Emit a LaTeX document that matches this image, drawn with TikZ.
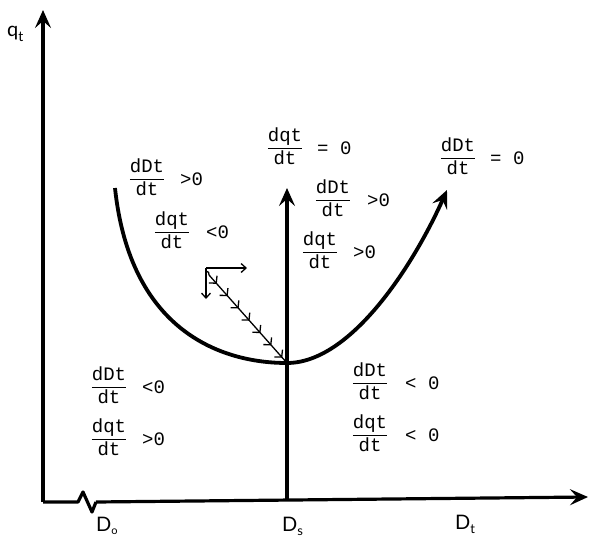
\documentclass[tikz,border=0pt]{standalone}
\usepackage{amsmath}
\usepackage{fontspec}
\setmainfont{Lato}
\newfontfamily\tw{Liberation Mono}
\usetikzlibrary{arrows.meta,decorations.markings}
\newcommand\dfr[2]{$\dfrac{\hbox{\tw #1}}{\hbox{\tw #2}}$}
\tikzset{
  axisline/.style={line width=3.2pt, -{Stealth[length=18pt,width=16pt,inset=7pt]}},
  bigcurve/.style={line width=3.8pt, -{Stealth[length=18pt,width=16pt,inset=7pt]}},
  thinarrow/.style={line width=1.3pt, -{Straight Barb[length=5pt,width=9pt]}},
  chevrons/.style={line width=1.3pt, postaction={decorate},
    decoration={markings, mark=between positions 0.1 and 0.95 step 0.14 with {\arrow{Straight Barb[length=5pt,width=11pt,line width=1.3pt]}}}},
  fracnode/.style={font=\fontsize{19}{21}\selectfont, inner sep=0pt, anchor=base},
  relnode/.style={font=\tw\fontsize{19}{21}\selectfont, inner sep=0pt, anchor=west},
  axlabel/.style={font=\fontsize{20}{22}\selectfont, inner sep=0pt, anchor=base west}
}
\begin{document}
\begin{tikzpicture}[x=1pt,y=-1pt]
\useasboundingbox (0,0) rectangle (590,538);
% coordinates
\coordinate (O) at (43,502);
\coordinate (Ytip) at (43,10);
\coordinate (B1) at (78,502);
\coordinate (B2) at (83,492);
\coordinate (B3) at (92,512);
\coordinate (B4) at (96,502);
\coordinate (Xtip) at (588,497);
\coordinate (Sbase) at (287,500);
\coordinate (Stip) at (287,188);
\coordinate (Cstart) at (115,188);
\coordinate (Cmin) at (287,363);
\coordinate (Cend) at (447,190);
\coordinate (P) at (206,268);
\coordinate (Ph) at (247,268);
\coordinate (Pv) at (206,299);
\coordinate (Pd) at (209,275);

% axes
\draw[axisline] (O) -- (Ytip);
\draw[line width=3.2pt, line join=round] (O) -- (B1) -- (B2) -- (B3) -- (B4);
\draw[axisline] (B4) -- (Xtip);
\draw[axisline] (Sbase) -- (Stip);

% U curve
\draw[bigcurve] (Cstart) .. controls (130,330) and (220,363) .. (Cmin)
  .. controls (352,363) and (415,262) .. (Cend);

% small vector diagram
\draw[thinarrow] (P) -- (Ph);
\draw[thinarrow] (P) -- (Pv);
\draw[line width=1.3pt] (P) ++(0,3) to[out=0,in=60] (Pd);
\draw[chevrons] (Pd) -- (Cmin);

% axis labels
\node[axlabel] (qt) at (7,37) {q\raisebox{-5pt}{\fontsize{14}{15}\selectfont t}};
\node[axlabel] (Do) at (96,531) {D\raisebox{-3pt}{\fontsize{11}{12}\selectfont o}};
\node[axlabel] (Ds) at (282,531) {D\raisebox{-4pt}{\fontsize{13}{14}\selectfont s}};
\node[axlabel] (Dt) at (455,529) {D\raisebox{-4pt}{\fontsize{13}{14}\selectfont t}};

% fraction labels
\node[fracnode] (fA) at (147,184) {\dfr{dDt}{dt}};
\node[relnode] (rA) at (180,179) {>0};
\node[fracnode] (fB) at (172,237) {\dfr{dqt}{dt}};
\node[relnode] (rB) at (206,232) {<0};
\node[fracnode] (fC) at (285,153) {\dfr{dqt}{dt}};
\node[relnode] (rC) at (317,148) {= 0};
\node[fracnode] (fD) at (333,205) {\dfr{dDt}{dt}};
\node[relnode] (rD) at (367,200) {>0};
\node[fracnode] (fE) at (320,257) {\dfr{dqt}{dt}};
\node[relnode] (rE) at (353,252) {>0};
\node[fracnode] (fF) at (458,163) {\dfr{dDt}{dt}};
\node[relnode] (rF) at (490,158) {= 0};
\node[fracnode] (fG) at (109,392) {\dfr{dDt}{dt}};
\node[relnode] (rG) at (142,387) {<0};
\node[fracnode] (fH) at (109,444) {\dfr{dqt}{dt}};
\node[relnode] (rH) at (142,439) {>0};
\node[fracnode] (fI) at (370,388) {\dfr{dDt}{dt}};
\node[relnode] (rI) at (405,383) {< 0};
\node[fracnode] (fJ) at (370,440) {\dfr{dqt}{dt}};
\node[relnode] (rJ) at (405,435) {< 0};
\end{tikzpicture}
\end{document}
